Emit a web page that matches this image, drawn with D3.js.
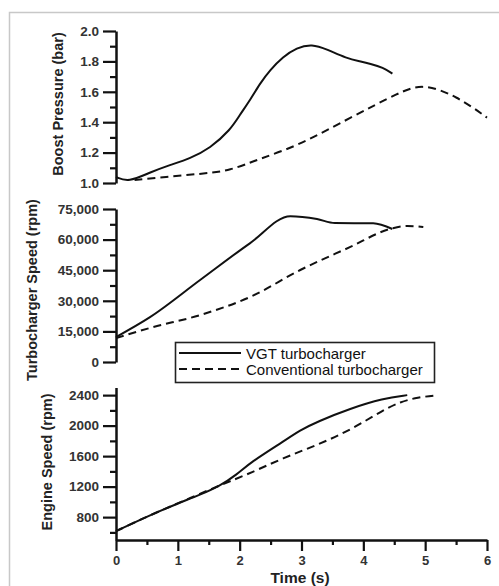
<!DOCTYPE html>
<html><head><meta charset="utf-8">
<script src="https://cdn.jsdelivr.net/npm/d3@7"></script>
<style>body{margin:0;background:#fff}svg{display:block}</style>
</head><body>
<script>
// ---- data ----
const boostVGT_t   = [0, 0.2, 0.55, 0.87, 1.2, 1.52, 1.85, 2.0, 2.17, 2.33, 2.49, 2.7, 2.92, 3.17, 3.41, 3.73, 3.95, 4.11, 4.32, 4.47];
const boostVGT_v   = [1.04, 1.005, 1.07, 1.118, 1.162, 1.228, 1.349, 1.447, 1.546, 1.656, 1.743, 1.83, 1.89, 1.915, 1.88, 1.82, 1.8, 1.785, 1.76, 1.72];
const boostConv_t  = [0.3, 0.8, 1.36, 1.85, 2.33, 2.92, 3.79, 4.6, 4.97, 5.52, 6.0];
const boostConv_v  = [1.02, 1.04, 1.06, 1.08, 1.162, 1.24, 1.43, 1.6, 1.655, 1.57, 1.43];

const turboVGT_t   = [0, 0.55, 1.36, 2.17, 2.82, 3.25, 3.54, 4.16, 4.47];
const turboVGT_v   = [12250, 22000, 40200, 58300, 71500, 70100, 68100, 68000, 65200];
const turboConv_t  = [0, 0.55, 1.36, 2.2, 2.98, 3.79, 4.43, 4.71, 4.97];
const turboConv_v  = [11700, 16700, 23000, 32300, 45100, 56400, 65200, 66700, 66200];

const engVGT_t     = [0, 0.55, 1.0, 1.35, 1.68, 1.95, 2.17, 2.7, 2.98, 3.25, 3.79, 4.32, 4.71];
const engVGT_v     = [616, 826, 980, 1090, 1210, 1355, 1515, 1788, 1941, 2050, 2225, 2356, 2400];
const engConv_t    = [0, 0.55, 1.0, 1.6, 1.89, 2.17, 2.7, 3.25, 3.79, 4.32, 4.6, 4.87, 5.21];
const engConv_v    = [616, 826, 980, 1190, 1285, 1377, 1574, 1744, 1941, 2203, 2312, 2370, 2400];

const xTicks       = [0, 1, 2, 3, 4, 5, 6];
const boostTicks   = [1.0, 1.2, 1.4, 1.6, 1.8, 2.0];
const turboTicks   = [0, 15000, 30000, 45000, 60000, 75000];
const engTicks     = [800, 1200, 1600, 2000, 2400];
const legendLabels = ["VGT turbocharger", "Conventional turbocharger"];

// ---- drawing ----
const W = 499, H = 586;
const svg = d3.select("body").append("svg").attr("width", W).attr("height", H);
const font = "Liberation Sans, Arial, sans-serif";

// frame
svg.append("path").attr("d", `M9.5,${H} V12.5 H${W}`).attr("fill","none")
  .attr("stroke","#c8c8c8").attr("stroke-width",1.5);

const x = d3.scaleLinear().domain([0, 6]).range([116, 487]);
const yB = d3.scaleLinear().domain([1.0, 2.0]).range([183, 31]);
const yT = d3.scaleLinear().domain([0, 75000]).range([362, 209]);
const yE = d3.scaleLinear().domain([500, 2500]).range([540, 387.5]);

function yAxis(scale, major, minor, fmt) {
  const g = svg.append("g").attr("transform", `translate(${x(0)},0)`);
  const ax = d3.axisLeft(scale).tickValues(major).tickSize(13).tickSizeOuter(0).tickPadding(4).tickFormat(fmt);
  g.call(ax);
  const gm = svg.append("g").attr("transform", `translate(${x(0)},0)`);
  gm.call(d3.axisLeft(scale).tickValues(minor).tickSize(6).tickSizeOuter(0).tickFormat(""));
  gm.select(".domain").remove();
  [g, gm].forEach(s => {
    s.selectAll("line").attr("stroke", "#111").attr("stroke-width", 2.2);
    s.select(".domain").attr("stroke", "#111").attr("stroke-width", 2.5);
  });
  g.selectAll("text").attr("font-family", font).attr("font-size", 13.5).attr("font-weight", "bold").attr("fill", "#333");
}

yAxis(yB, boostTicks, d3.range(1.1, 2.0, 0.2), d3.format(".1f"));
yAxis(yT, turboTicks, d3.range(7500, 75000, 15000), d3.format(","));
yAxis(yE, engTicks, d3.range(600, 2400, 400), d3.format("d"));

// x axis (bottom panel)
const gx = svg.append("g").attr("transform", `translate(0,${yE(500)})`);
gx.call(d3.axisBottom(x).tickValues(xTicks).tickSize(11).tickSizeOuter(0).tickPadding(5).tickFormat(d3.format("d")));
const gxm = svg.append("g").attr("transform", `translate(0,${yE(500)})`);
gxm.call(d3.axisBottom(x).tickValues(d3.range(0.5, 6, 1)).tickSize(5).tickSizeOuter(0).tickFormat(""));
gxm.select(".domain").remove();
[gx, gxm].forEach(s => {
  s.selectAll("line").attr("stroke", "#111").attr("stroke-width", 2.2);
  s.select(".domain").attr("stroke", "#111").attr("stroke-width", 2.5);
});
gx.selectAll("text").attr("font-family", font).attr("font-size", 13).attr("font-weight", "bold").attr("fill", "#333");

// axis titles
function yTitle(txt, cx, cy) {
  svg.append("text").attr("transform", `translate(${cx},${cy}) rotate(-90)`)
    .attr("text-anchor", "middle").attr("dominant-baseline", "central")
    .attr("font-family", font).attr("font-size", 14.5).attr("font-weight", "bold").attr("fill", "#222")
    .text(txt);
}
yTitle("Boost Pressure (bar)", 58, 104);
yTitle("Turbocharger Speed (rpm)", 32, 290);
yTitle("Engine Speed (rpm)", 47, 462);
svg.append("text").attr("x", 300).attr("y", 577).attr("text-anchor", "middle").attr("dominant-baseline", "central")
  .attr("font-family", font).attr("font-size", 15.5).attr("font-weight", "bold").attr("fill", "#222").text("Time (s)");

// curves
function curve(ts, vs, yS, dashed, crv) {
  const pts = ts.map((t, i) => [t, vs[i]]);
  const line = d3.line().x(d => x(d[0])).y(d => yS(d[1])).curve(crv);
  svg.append("path").attr("d", line(pts)).attr("fill", "none").attr("stroke", "#111")
    .attr("stroke-width", 2).attr("stroke-dasharray", dashed ? "8,5" : null);
}
curve(boostConv_t, boostConv_v, yB, true, d3.curveBasis);
curve(boostVGT_t, boostVGT_v, yB, false, d3.curveBasis);
curve(turboConv_t, turboConv_v, yT, true, d3.curveMonotoneX);
curve(turboVGT_t, turboVGT_v, yT, false, d3.curveMonotoneX);
curve(engConv_t, engConv_v, yE, true, d3.curveBasis);
curve(engVGT_t, engVGT_v, yE, false, d3.curveBasis);

// legend
const lg = svg.append("g");
lg.append("rect").attr("x", 175.5).attr("y", 342.5).attr("width", 259).attr("height", 40)
  .attr("fill", "#fff").attr("stroke", "#222").attr("stroke-width", 1.6);
legendLabels.forEach((lab, i) => {
  const yy = 353 + i * 16;
  lg.append("line").attr("x1", 179).attr("x2", 241).attr("y1", yy).attr("y2", yy)
    .attr("stroke", "#111").attr("stroke-width", 2).attr("stroke-dasharray", i ? "8,5" : null);
  lg.append("text").attr("x", 246).attr("y", yy).attr("dominant-baseline", "central")
    .attr("font-family", font).attr("font-size", 15).attr("fill", "#111").text(lab);
});
</script>
</body></html>
